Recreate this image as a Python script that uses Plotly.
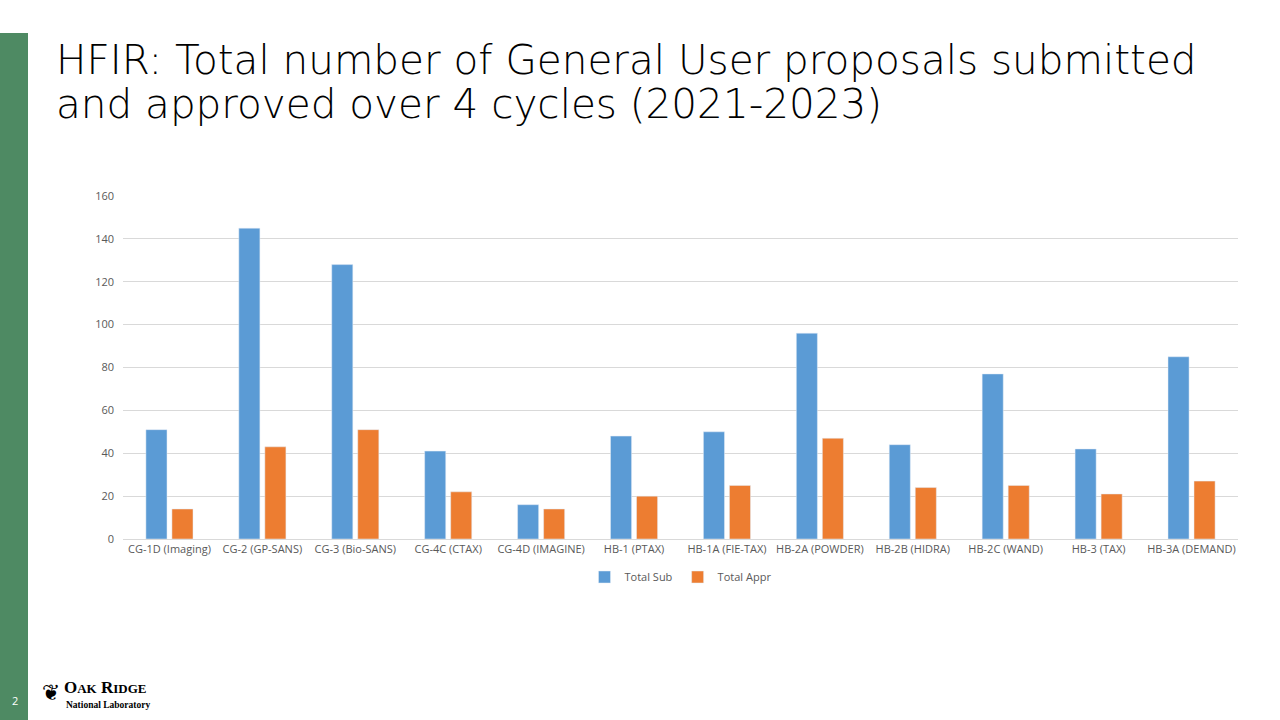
import plotly.graph_objects as go

categories = ["CG-1D (Imaging)", "CG-2 (GP-SANS)", "CG-3 (Bio-SANS)", "CG-4C (CTAX)",
              "CG-4D (IMAGINE)", "HB-1 (PTAX)", "HB-1A (FIE-TAX)", "HB-2A (POWDER)",
              "HB-2B (HIDRA)", "HB-2C (WAND)", "HB-3 (TAX)", "HB-3A (DEMAND)"]
total_sub = [51, 145, 128, 41, 16, 48, 50, 96, 44, 77, 42, 85]
total_appr = [14, 43, 51, 22, 14, 20, 25, 47, 24, 25, 21, 27]
y_ticks = [0, 20, 40, 60, 80, 100, 120, 140, 160]
title_lines = ["HFIR: Total number of General User proposals submitted",
               "and approved over 4 cycles (2021-2023)"]

W, H = 1280, 720
L, R, T, B = 123, 42, 196, 181
PW, PH = W - L - R, H - T - B

def px(x):
    return (x - L) / PW

def py(y):
    return 1 - (y - T) / PH

fig = go.Figure()
fig.add_trace(go.Bar(name="Total Sub", x=categories, y=total_sub, marker_color="#5B9BD5"))
fig.add_trace(go.Bar(name="Total Appr", x=categories, y=total_appr, marker_color="#ED7D31"))

fig.update_layout(
    width=W, height=H,
    margin=dict(l=L, r=R, t=T, b=B),
    paper_bgcolor="white", plot_bgcolor="white",
    barmode="group", bargap=0.44, bargroupgap=0.19,
    font=dict(family="Open Sans", color="#595959"),
    showlegend=True,
    legend=dict(orientation="h", x=0.5, xanchor="center", y=py(577), yanchor="middle",
                font=dict(size=11, color="#595959"), itemwidth=30, traceorder="normal"),
    xaxis=dict(showgrid=False, showline=True, linecolor="#d9d9d9", linewidth=1,
               tickfont=dict(size=11, color="#595959"), ticks="", tickangle=0),
    yaxis=dict(range=[0, 160], tickvals=y_ticks, showgrid=True, gridcolor="#d9d9d9",
               gridwidth=1, zeroline=False, showline=False, ticks="",
               tickfont=dict(size=11, color="#595959"), ticklabelstandoff=8),
)

shapes = [
    dict(type="rect", xref="paper", yref="paper", x0=px(0), x1=px(28), y0=py(33), y1=py(720),
         fillcolor="#4E8A63", line=dict(width=0), layer="above"),
]
fig.update_layout(shapes=shapes)

annotations = [
    dict(text=title_lines[0], xref="paper", yref="paper", x=px(54), y=py(60),
         xanchor="left", yanchor="middle", showarrow=False,
         font=dict(family="DejaVu Sans", size=40.5, color="#000000", weight=300)),
    dict(text=title_lines[1], xref="paper", yref="paper", x=px(54), y=py(104),
         xanchor="left", yanchor="middle", showarrow=False,
         font=dict(family="DejaVu Sans", size=40.5, color="#000000", weight=300)),
    dict(text="2", xref="paper", yref="paper", x=px(15), y=py(700), xanchor="center",
         yanchor="middle", showarrow=False, font=dict(family="Open Sans", size=11, color="white")),
    dict(text="<b>O</b><span style='font-size:13px'><b>AK</b></span> <b>R</b><span style='font-size:13px'><b>IDGE</b></span>",
         xref="paper", yref="paper", x=px(62), y=py(687), xanchor="left", yanchor="middle",
         showarrow=False, font=dict(family="Liberation Serif", size=17, color="#000000")),
    dict(text="<b>National Laboratory</b>", xref="paper", yref="paper", x=px(64), y=py(705),
         xanchor="left", yanchor="middle", showarrow=False,
         font=dict(family="Liberation Serif", size=9.5, color="#000000")),
    dict(text="❦", xref="paper", yref="paper", x=px(40), y=py(692), xanchor="left",
         yanchor="middle", showarrow=False,
         font=dict(family="DejaVu Sans", size=22, color="#000000")),
]
fig.update_layout(annotations=annotations)

fig.write_html("out.html", config={"displayModeBar": False},
               post_script="document.body.style.margin='0';document.body.style.overflow='hidden';")
